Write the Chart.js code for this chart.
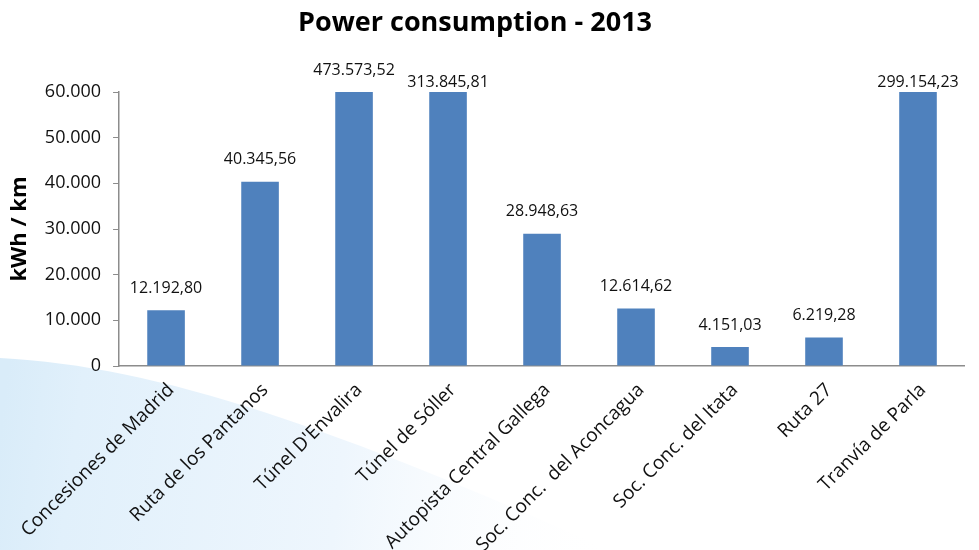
<!DOCTYPE html>
<html>
<head>
<meta charset="utf-8">
<script src="https://cdn.jsdelivr.net/npm/chart.js@4"></script>
<style>
  html, body { margin: 0; padding: 0; background: #fff; }
  #wrap { width: 979px; height: 550px; position: relative; }
</style>
</head>
<body>
<div id="wrap"><canvas id="c" width="979" height="550"></canvas></div>
<script>
const categories = [
  'Concesiones de Madrid', 'Ruta de los Pantanos', "Túnel D'Envalira", 'Túnel de Sóller',
  'Autopista Central Gallega', 'Soc. Conc.  del Aconcagua', 'Soc. Conc. del Itata', 'Ruta 27', 'Tranvía de Parla'
];
const consumption = [12192.80, 40345.56, 473573.52, 313845.81, 28948.63, 12614.62, 4151.03, 6219.28, 299154.23];
const yTicks = [0, 10000, 20000, 30000, 40000, 50000, 60000];
const chartTitle = 'Power consumption - 2013';
const yTitle = 'kWh / km';

function fmtThousands(intStr) {
  return intStr.replace(/\B(?=(\d{3})+(?!\d))/g, '.');
}
function fmtValue(v) {
  const parts = v.toFixed(2).split('.');
  return fmtThousands(parts[0]) + ',' + parts[1];
}

const bgPlugin = {
  id: 'bg',
  beforeDraw(chart) {
    const ctx = chart.ctx;
    ctx.save();
    ctx.fillStyle = '#ffffff';
    ctx.fillRect(0, 0, chart.width, chart.height);
    const g = ctx.createLinearGradient(0, 430, 620, 510);
    g.addColorStop(0, '#d9ecf9');
    g.addColorStop(0.12, '#e1f0fb');
    g.addColorStop(0.55, '#eef6fd');
    g.addColorStop(1, 'rgba(255,255,255,0)');
    ctx.fillStyle = g;
    ctx.beginPath();
    ctx.moveTo(0, 358);
    ctx.bezierCurveTo(160, 366, 340, 430, 610, 550);
    ctx.lineTo(0, 550);
    ctx.closePath();
    ctx.fill();
    ctx.restore();
  }
};

const titlePlugin = {
  id: 'slideTitle',
  afterDraw(chart) {
    const ctx = chart.ctx;
    ctx.save();
    ctx.font = 'bold 27px "Open Sans"';
    ctx.fillStyle = '#000';
    ctx.textAlign = 'center';
    ctx.textBaseline = 'middle';
    ctx.fillText(chartTitle, 475, 23);
    ctx.restore();
  }
};

const labelPlugin = {
  id: 'valueLabels',
  afterDatasetsDraw(chart) {
    const ctx = chart.ctx;
    const meta = chart.getDatasetMeta(0);
    const top = chart.chartArea.top;
    const yMax = chart.scales.y.max;
    let clippedSeen = 0;
    ctx.save();
    ctx.font = '16px "Open Sans"';
    ctx.fillStyle = '#111';
    ctx.textAlign = 'center';
    ctx.textBaseline = 'middle';
    meta.data.forEach((bar, i) => {
      const v = consumption[i];
      const barTop = Math.max(bar.y, top);
      let lift = 22;
      if (v > yMax) {
        if (clippedSeen > 0) lift = 10;
        clippedSeen++;
      }
      ctx.fillText(fmtValue(v), bar.x, barTop - lift);
    });
    ctx.restore();
  }
};

new Chart(document.getElementById('c'), {
  type: 'bar',
  data: {
    labels: categories,
    datasets: [{
      data: consumption,
      backgroundColor: '#4f81bd',
      borderWidth: 0,
      barPercentage: 0.4,
      categoryPercentage: 1.0
    }]
  },
  options: {
    responsive: false,
    animation: false,
    devicePixelRatio: 1,
    layout: { padding: { left: 0, right: 14, top: 92, bottom: 0 } },
    plugins: {
      legend: { display: false },
      tooltip: { enabled: false },
      title: { display: false }
    },
    scales: {
      x: {
        grid: { display: true, drawOnChartArea: false, drawTicks: false },
        border: { display: true, color: '#8c8c8c', width: 1.5 },
        ticks: {
          color: '#111',
          font: { family: '"Open Sans"', size: 19 },
          maxRotation: 45, minRotation: 45,
          autoSkip: false,
          padding: 13,
          labelOffset: 5
        },
        afterFit(scale) { scale.height = 184; }
      },
      y: {
        min: 0, max: 60000,
        afterBuildTicks(scale) { scale.ticks = yTicks.map(v => ({ value: v })); },
        grid: { display: true, drawOnChartArea: false, drawTicks: true, tickLength: 6, color: '#8c8c8c' },
        border: { display: true, color: '#8c8c8c', width: 1.5 },
        ticks: {
          color: '#111',
          font: { family: '"Open Sans"', size: 18 },
          padding: 12,
          callback: v => fmtThousands(String(v))
        },
        title: {
          display: true,
          text: yTitle,
          color: '#000',
          font: { family: '"Open Sans"', size: 22, weight: 'bold' },
          padding: { top: 6, bottom: 0 }
        },
        afterFit(scale) { scale.width = 119; }
      }
    }
  },
  plugins: [bgPlugin, labelPlugin, titlePlugin]
});
</script>
</body>
</html>
